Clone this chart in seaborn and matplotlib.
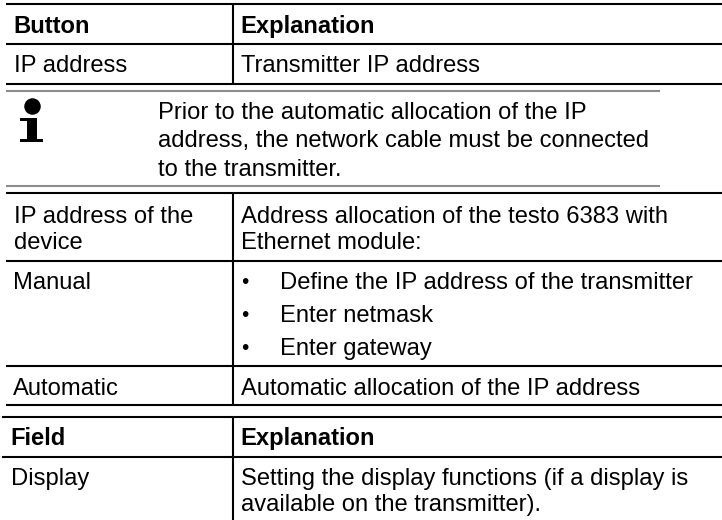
import pandas as pd
import seaborn as sns
import matplotlib.pyplot as plt

sns.set_theme(style="white")
plt.rcParams["font.family"] = ["Liberation Sans", "DejaVu Sans"]

# table text: (x, baseline y, string)
bold_x = [13, 240, 10, 240]
bold_y = [33, 33, 445, 445]
bold_text = ["Button", "Explanation", "Field", "Explanation"]

body_x = [14, 241, 14, 241, 14, 241, 13, 280, 280, 280, 13, 241, 11, 241, 241]
body_y = [72, 72, 223, 223, 249, 249, 289, 289, 322, 355, 395, 395, 485, 485, 511]
body_text = [
    "IP address", "Transmitter IP address",
    "IP address of the", "Address allocation of the testo 6383 with",
    "device", "Ethernet module:",
    "Manual", "Define the IP address of the transmitter", "Enter netmask", "Enter gateway",
    "Automatic", "Automatic allocation of the IP address",
    "Display", "Setting the display functions (if a display is", "available on the transmitter).",
]

note_x = 158
note_y = [119, 147, 176]
note_text = [
    "Prior to the automatic allocation of the IP",
    "address, the network cable must be connected",
    "to the transmitter.",
]

bullet_x = 245
bullet_y = [288, 321, 354]

# rules
h_black_y = [4, 44, 84, 193, 261, 366, 405, 417, 457]
h_black_x0 = [6, 6, 6, 6, 6, 6, 6, 2, 2]
h_gray_y = [91, 186]
v_x = 233
v_spans = [(4, 84), (193, 405), (417, 520)]

# info icon outline
icon_x = [20, 37, 37, 43, 43, 20, 20, 27, 27, 20]
icon_y = [118, 118, 139, 139, 142, 142, 139, 139, 121, 121]

rows = []
n = 0
for y, x0 in zip(h_black_y, h_black_x0):
    rows += [{"rule": n, "kind": "black", "x": x0, "y": y}, {"rule": n, "kind": "black", "x": 722, "y": y}]
    n += 1
for y in h_gray_y:
    rows += [{"rule": n, "kind": "gray", "x": 6, "y": y}, {"rule": n, "kind": "gray", "x": 660, "y": y}]
    n += 1
for y0, y1 in v_spans:
    rows += [{"rule": n, "kind": "black", "x": v_x, "y": y0}, {"rule": n, "kind": "black", "x": v_x, "y": y1}]
    n += 1
rules = pd.DataFrame(rows)

fig = plt.figure(figsize=(7.22, 5.2), dpi=100)
ax = fig.add_axes([0, 0, 1, 1])

sns.lineplot(data=rules, x="x", y="y", units="rule", hue="kind", estimator=None, sort=False,
             palette={"black": "#000000", "gray": "#8c8c8c"}, legend=False,
             linewidth=1.5, solid_capstyle="butt", ax=ax)

ax.set_xlim(0, 722)
ax.set_ylim(520, 0)
ax.axis("off")

fs = 17.15
for x, y, s in zip(bold_x, bold_y, bold_text):
    ax.text(x, y, s, fontsize=fs, fontweight="bold", color="black", va="baseline")
for x, y, s in zip(body_x, body_y, body_text):
    ax.text(x, y, s, fontsize=fs, color="black", va="baseline")
for y, s in zip(note_y, note_text):
    ax.text(note_x, y, s, fontsize=fs, color="black", va="baseline")
for y in bullet_y:
    ax.text(bullet_x, y, "•", fontsize=15, color="black", va="baseline", ha="center")

# info icon
ax.fill(icon_x, icon_y, color="black", linewidth=0)
sns.scatterplot(x=[31.5], y=[105.5], s=141, color="black", linewidth=0, legend=False, ax=ax)

fig.savefig("out.png", dpi=100)
